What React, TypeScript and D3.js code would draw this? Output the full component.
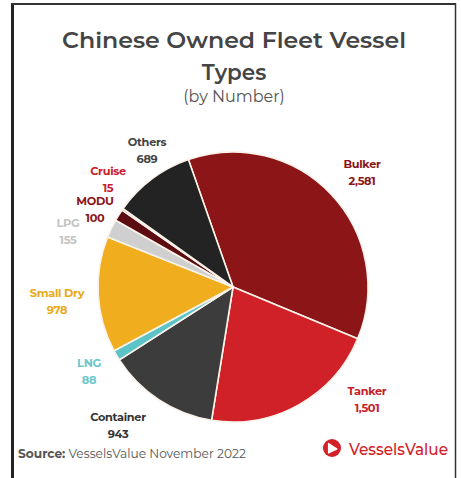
import React from "react";
import * as d3 from "d3";

const categories = ["Bulker", "Tanker", "Container", "LNG", "Small Dry", "LPG", "MODU", "Cruise", "Others"];
const values = [2581, 1501, 943, 88, 978, 155, 100, 15, 689];
const valueLabels = ["2,581", "1,501", "943", "88", "978", "155", "100", "15", "689"];
const sliceColors = ["#8c1518", "#d02128", "#3c3c3c", "#5cc3c6", "#f0ad1d", "#cfcfcf", "#5c0c10", "#c8202a", "#232323"];
const labelColors = ["#8c1518", "#c8202a", "#333333", "#6cc7ca", "#e9a91a", "#c4c4c4", "#8c1518", "#c8202a", "#444444"];
// label anchor positions (name line centre)
const labelPos: [number, number][] = [
  [362, 168], [367, 395], [118, 421], [89, 367], [57, 297], [68, 227], [95, 205], [108, 175], [147, 146],
];

const W = 461, H = 478;
const cx = 233, cy = 287, R = 135;

export default function App() {
  const data = categories.map((c, i) => ({ c, v: values[i], i }));
  const pie = d3.pie<any>().value((d) => d.v).sort(null)
    .startAngle((-19.3 * Math.PI) / 180)
    .endAngle(((360 - 19.3) * Math.PI) / 180);
  const arcs = pie(data);
  const arc = d3.arc<any>().innerRadius(0).outerRadius(R);
  const font = "Montserrat, Inter, 'Open Sans', sans-serif";
  return (
    <svg width={W} height={H} style={{ position: "absolute", left: 0, top: 0, background: "#fff" }} fontFamily={font}>
      <rect x={0} y={0} width={W} height={H} fill="#fff" />
      {/* frame */}
      <line x1={12.5} y1={3} x2={12.5} y2={H} stroke="#222" strokeWidth={3} />
      <line x1={11} y1={4} x2={456} y2={4} stroke="#333" strokeWidth={2} />
      <line x1={455.5} y1={3} x2={455.5} y2={H} stroke="#333" strokeWidth={1.5} />
      {/* title */}
      <text x={234} y={48} textAnchor="middle" fontSize={21.5} fontWeight={600} fill="#444" textLength={344} lengthAdjust="spacingAndGlyphs">Chinese Owned Fleet Vessel</text>
      <text x={234} y={80} textAnchor="middle" fontSize={21.5} fontWeight={600} fill="#444">Types</text>
      <text x={234} y={102} textAnchor="middle" fontSize={16} fontWeight={400} fill="#555">(by Number)</text>
      {/* pie */}
      <g transform={`translate(${cx},${cy})`}>
        {arcs.map((a, i) => (
          <path key={i} d={arc(a) as string} fill={sliceColors[i]} stroke="#fbf3ea" strokeWidth={1.6} strokeLinejoin="round" />
        ))}
      </g>
      {/* labels */}
      {categories.map((c, i) => (
        <g key={c} fill={labelColors[i]} fontWeight={700} textAnchor="middle">
          <text x={labelPos[i][0]} y={labelPos[i][1]} fontSize={11.3} letterSpacing={-0.3}>{c}</text>
          <text x={labelPos[i][0]} y={labelPos[i][1] + 16.5} fontSize={11.3} letterSpacing={-0.3}>{valueLabels[i]}</text>
        </g>
      ))}
      {/* source */}
      <text x={18} y={458} fontSize={12.2} fill="#555">
        <tspan fontWeight={700}>Source:</tspan>
        <tspan> VesselsValue November 2022</tspan>
      </text>
      {/* logo */}
      <circle cx={332} cy={448} r={9} fill="#d42027" />
      <path d="M328.5,443.5 L328.5,453 L337,449 Z" fill="#fff" stroke="#fff" strokeWidth={1.2} strokeLinejoin="round" />
      <text x={349} y={454.5} fontSize={17} fontWeight={500} fill="#d42027" textLength={99} lengthAdjust="spacingAndGlyphs">VesselsValue</text>
    </svg>
  );
}
